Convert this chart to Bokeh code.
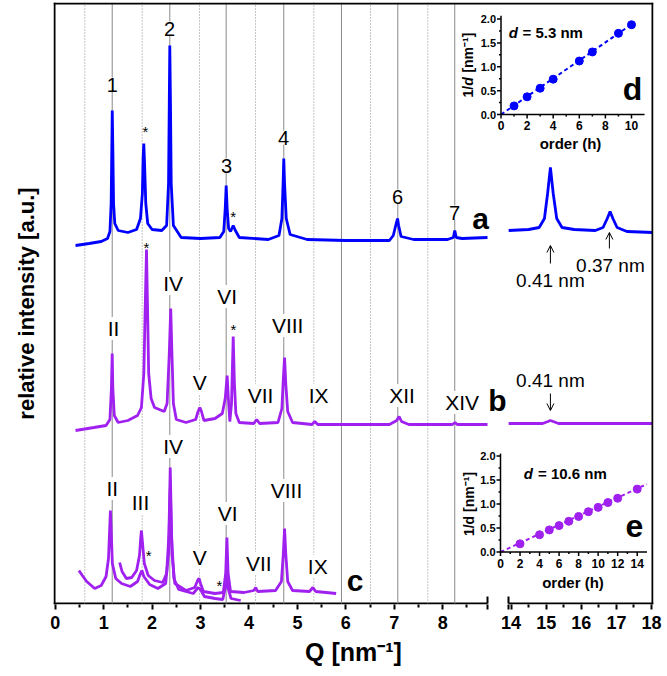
import math
from bokeh.plotting import figure
from bokeh.models import Range1d, FixedTicker, Label, Arrow, OpenHead, LinearAxis, Span
from bokeh.core.properties import value
from bokeh.embed import file_html
from bokeh.resources import INLINE

BLUE = "#0000ff"
PURPLE = "#a020f0"
GRID = "#8a8a8a"
FONT = "Liberation Sans"
LW = 2.8

# ---------------- data ----------------
# trace a (blue), main panel: Q [nm^-1], relative intensity [a.u.]
qa = [0.42, 0.70, 0.95, 1.08, 1.13, 1.155, 1.17, 1.178, 1.19, 1.205, 1.23, 1.30, 1.50, 1.68, 1.76,
      1.80, 1.815, 1.829, 1.845, 1.87, 1.91, 2.00, 2.20, 2.30, 2.34, 2.355, 2.366, 2.38, 2.395, 2.44,
      2.60, 3.00, 3.40, 3.48, 3.51, 3.53, 3.55, 3.58, 3.62, 3.675, 3.72, 3.80, 4.40, 4.62, 4.68,
      4.705, 4.719, 4.735, 4.77, 4.85, 5.20, 6.00, 6.90, 6.98, 7.04, 7.068, 7.09, 7.14, 7.40, 8.10,
      8.22, 8.249, 8.28, 8.40, 8.925]
ia = [358, 360, 362, 365, 372, 400, 460, 493, 455, 400, 380, 373, 371, 374, 385,
      410, 445, 460, 440, 400, 380, 374, 373, 378, 420, 500, 558, 500, 420, 378,
      366, 365, 366, 372, 395, 418, 395, 375, 372, 378, 373, 366, 364, 368, 385,
      420, 445, 420, 385, 369, 364, 363, 363, 368, 380, 385, 378, 367, 364, 364,
      366, 373, 366, 365, 366]

# trace b (purple)
qb = [0.42, 0.80, 1.05, 1.13, 1.16, 1.177, 1.19, 1.22, 1.30, 1.50, 1.70, 1.78, 1.83, 1.86, 1.885,
      1.905, 1.93, 1.98, 2.05, 2.25, 2.31, 2.355, 2.385, 2.41, 2.44, 2.50, 2.70, 2.90, 2.95, 2.985,
      3.02, 3.07, 3.30, 3.45, 3.51, 3.55, 3.575, 3.605, 3.64, 3.675, 3.70, 3.73, 3.80, 4.10, 4.16,
      4.22, 4.60, 4.68, 4.71, 4.735, 4.76, 4.80, 4.90, 5.30, 5.36, 5.42, 6.90, 7.05, 7.10, 7.15,
      7.30, 8.20, 8.255, 8.30, 8.925]
ib = [173, 176, 178, 184, 215, 250, 215, 188, 181, 183, 188, 196, 230, 300, 354,
      300, 230, 205, 196, 192, 200, 250, 295, 250, 200, 184, 181, 184, 192, 196,
      192, 183, 185, 190, 205, 228, 205, 182, 200, 267, 220, 190, 181, 180, 184,
      180, 181, 195, 225, 246, 220, 192, 181, 179, 182, 179, 179, 183, 187, 182,
      179, 179, 181, 179, 179]

# trace c (purple), two overlapping scans
qc1 = [0.49, 0.56, 0.65, 0.815, 0.95, 1.05, 1.10, 1.125, 1.14, 1.155, 1.18, 1.25, 1.37, 1.55, 1.70,
       1.76, 1.79, 1.83, 1.95, 2.12, 2.28, 2.34, 2.36, 2.375, 2.39, 2.41, 2.47, 2.70, 2.88, 2.95,
       2.97, 3.00, 3.06, 3.30, 3.47, 3.52, 3.545, 3.57, 3.62, 3.90, 4.10, 4.14, 4.18, 4.55, 4.67,
       4.71, 4.735, 4.76, 4.80, 4.90, 5.25, 5.32, 5.38, 5.80]
ic1 = [33, 28, 22, 15, 18, 27, 45, 75, 93, 75, 40, 25, 20, 17, 22,
       30, 33, 27, 19, 15, 20, 50, 100, 136, 100, 50, 20, 13, 16, 24,
       25, 20, 12, 10, 11, 30, 66, 30, 12, 11, 13, 16, 12, 13, 22,
       50, 75, 50, 22, 13, 12, 16, 12, 10]
qc2 = [1.33, 1.38, 1.47, 1.58, 1.68, 1.74, 1.765, 1.78, 1.80, 1.84, 1.92, 2.05, 2.22, 2.30, 2.35,
       2.375, 2.40, 2.45, 2.55, 2.85, 2.95, 3.00, 3.08, 3.30, 3.46, 3.52, 3.545, 3.57, 3.63, 3.83]
ic2 = [41, 32, 25, 26, 33, 48, 65, 73, 62, 40, 28, 23, 21, 30, 70,
       115, 70, 25, 14, 10, 16, 14, 7, 5, 4, 18, 45, 15, 5, 3]

# right (wide-angle) panel
tr_a = [13.93, 14.50, 14.80, 14.95, 15.04, 15.12, 15.20, 15.30, 15.45, 15.80, 16.40, 16.62, 16.74,
        16.82, 16.90, 17.02, 17.30, 18.04]
ir_a = [373, 374, 376, 385, 410, 436, 410, 385, 376, 374, 373, 376, 385, 392, 385, 376, 372, 371]
tr_b = [13.93, 14.90, 15.05, 15.12, 15.20, 15.35, 18.04]
ir_b = [180, 180, 182, 183, 182, 180, 180]

# reference lines (peak positions)
solid_q = [1.177, 2.366, 3.530, 4.719, 5.910, 7.073, 8.249]
dotted_q = [0.611, 1.796, 2.979, 4.135, 5.339, 6.509, 7.692]

# peak labels
lab_a_txt = ["1", "2", "3", "4", "6", "7"]
lab_a_q = [1.177, 2.36, 3.536, 4.713, 7.067, 8.243]
lab_a_h = [519, 575, 438, 466, 407, 391]
lab_b_txt = ["II", "IV", "V", "VI", "VII", "VIII", "IX", "XII", "XIV"]
lab_b_q = [1.204, 2.436, 2.985, 3.551, 4.238, 4.80, 5.44, 7.16, 8.40]
lab_b_h = [275, 320, 221, 307, 208, 278, 208, 208, 201]
lab_c_txt = ["II", "III", "IV", "V", "VI", "VII", "VIII", "IX"]
lab_c_q = [1.177, 1.761, 2.436, 2.985, 3.563, 4.203, 4.775, 5.421]
lab_c_h = [115, 101, 157, 46, 90, 40, 113, 37]
star_q = [1.864, 3.675, 1.885, 3.681, 1.932, 3.392]
star_h = [476, 391, 360, 278, 52, 22]

# wide-angle annotations
wa_txt = ["0.41 nm", "0.37 nm", "0.41 nm"]
wa_t = [15.12, 16.83, 15.12]
wa_h = [323, 338, 223]
arr_t = [15.12, 16.80, 15.12]
arr_h0 = [340, 355, 210]
arr_h1 = [358, 371, 193]

# inset d
d_order = [1, 2, 3, 4, 6, 7, 9, 10]
d_inv = [0.18, 0.37, 0.55, 0.74, 1.12, 1.31, 1.70, 1.88]
d_fit_h = [0, 10]
d_fit_v = [0, 1.887]
# inset e
e_order = [2, 4, 5, 6, 7, 8, 9, 10, 11, 12, 14]
e_inv = [0.17, 0.36, 0.46, 0.55, 0.64, 0.74, 0.84, 0.93, 1.03, 1.12, 1.31]
e_fit_h = [0, 15]
e_fit_v = [0, 1.415]

main_ticks = [0, 1, 2, 3, 4, 5, 6, 7, 8]
right_ticks = [14, 15, 16, 17, 18]

# ---------------- layout calibration (canvas pixels) ----------------
FX0, FX1 = 53.0, 653.0
FY_TOP, FY_BOT = 2.0, 604.0


def xcal(v0, p0, v1, p1):
    k = (v1 - v0) / (p1 - p0)
    return Range1d(start=v0 + (FX0 - p0) * k, end=v0 + (FX1 - p0) * k), k


def ycal(v0, p0, v1, p1):
    k = (v1 - v0) / (p1 - p0)
    return Range1d(start=v0 + (FY_BOT - p0) * k, end=v0 + (FY_TOP - p0) * k), k


xr_main, kq = xcal(0, 54.7, 8, 442.2)
yr_main, kh = ycal(0, 603.0, 600, 3.0)
xr_right, kt = xcal(14, 510.6, 18, 651.0)
xr_d, kdx = xcal(0, 500.5, 10, 631.0)
yr_d, kdy = ycal(0, 114.0, 2, 18.5)
xr_e, kex = xcal(0, 500.0, 14, 636.7)
yr_e, key = ycal(0, 551.5, 2, 455.5)


def q_at_px(px):
    return (px - 54.7) * kq


def h_at_py(py):
    return 603.0 - py


def t_at_px(px):
    return 14 + (px - 510.6) * kt


def px_of_t(t):
    return 510.6 + (t - 14) / kt


q_break = q_at_px(487.0)
t_break = t_at_px(508.0)

p = figure(width=663, height=672, x_range=xr_main, y_range=yr_main, title=None,
           output_backend="svg", toolbar_location=None,
           min_border_left=53, min_border_right=10, min_border_top=2, min_border_bottom=68)
p.extra_x_ranges = {"r": xr_right, "dx": xr_d, "ex": xr_e, "px": Range1d(FX0, FX1)}
p.extra_y_ranges = {"dy": yr_d, "ey": yr_e, "py": Range1d(FY_BOT, FY_TOP)}
p.outline_line_color = None
p.xgrid.visible = False
p.ygrid.visible = False

# ---- bottom axis (ticks + labels); its line is drawn with a break below ----
majors = [float(v) for v in main_ticks]
overrides = {float(v): str(v) for v in main_ticks}
for t in right_ticks:
    qv = round(q_at_px(px_of_t(t)), 6)
    majors.append(qv)
    overrides[qv] = str(t)
for qv in (round(q_break, 6), round(q_at_px(508.0), 6)):
    majors.append(qv)
    overrides[qv] = ""
minors = [v + 0.5 for v in main_ticks] + [round(q_at_px(px_of_t(t + 0.5)), 6) for t in right_ticks[:-1]]
ax = p.xaxis[0]
ax.ticker = FixedTicker(ticks=majors, minor_ticks=minors)
ax.major_label_overrides = overrides
ax.axis_line_color = None
ax.major_tick_in = 0
ax.major_tick_out = 5
ax.minor_tick_in = 0
ax.minor_tick_out = 3
ax.major_tick_line_width = 2
ax.minor_tick_line_width = 2
ax.major_tick_line_color = "black"
ax.minor_tick_line_color = "black"
ax.major_label_text_font = FONT
ax.major_label_text_font_style = "bold"
ax.major_label_text_font_size = "18px"
ax.major_label_text_color = "black"
ax.major_label_standoff = 6

# axis title as a second (tick-less) axis below
tax = LinearAxis(ticker=FixedTicker(ticks=[]), axis_line_color=None,
                 major_tick_out=0, major_tick_in=0, minor_tick_out=0, minor_tick_in=0,
                 major_label_standoff=0,
                 axis_label="Q [nm\u207b\u00b9]", axis_label_text_font=FONT,
                 axis_label_text_font_style="bold", axis_label_text_font_size="25px",
                 axis_label_text_color="black", axis_label_standoff=6)
p.add_layout(tax, "below")

ay = p.yaxis[0]
ay.ticker = FixedTicker(ticks=[])
ay.axis_line_color = None
ay.bounds = (h_at_py(604.0), h_at_py(26.0))
ay.major_tick_out = 0
ay.major_tick_in = 0
ay.minor_tick_out = 0
ay.minor_tick_in = 0
ay.major_label_standoff = 0
ay.axis_label = "relative intensity [a.u.]"
ay.axis_label_text_font = FONT
ay.axis_label_text_font_style = "bold"
ay.axis_label_text_font_size = "22px"
ay.axis_label_text_color = "black"
ay.axis_label_standoff = 15

# ---- frame lines ----
p.add_layout(Span(location=h_at_py(3.0), dimension="width", line_color="black", line_width=2))
p.add_layout(Span(location=q_at_px(652.0), dimension="height", line_color="black", line_width=2))
p.add_layout(Span(location=q_at_px(54.0), dimension="height", line_color="black", line_width=2))
p.segment(x0=[xr_main.start], y0=[0], x1=[q_break], y1=[0], line_color="black", line_width=2)
p.segment(x0=[t_break], y0=[0], x1=[xr_right.end], y1=[0], line_color="black", line_width=2,
          x_range_name="r")
p.segment(x0=[q_break], y0=[0], x1=[q_break], y1=[7], line_color="black", line_width=2)
p.segment(x0=[t_break], y0=[0], x1=[t_break], y1=[7], line_color="black", line_width=2, x_range_name="r")

# ---- reference lines ----
p.segment(x0=solid_q, y0=[0] * len(solid_q), x1=solid_q, y1=[601] * len(solid_q),
          line_color=GRID, line_width=1)
p.segment(x0=dotted_q, y0=[0] * len(dotted_q), x1=dotted_q, y1=[601] * len(dotted_q),
          line_color=GRID, line_width=1, line_dash="1 2")

# ---- traces ----
p.line(qa, ia, line_color=BLUE, line_width=LW)
p.line(qb, ib, line_color=PURPLE, line_width=LW)
p.line(qc2, ic2, line_color=PURPLE, line_width=LW)
p.line(qc1, ic1, line_color=PURPLE, line_width=LW)
p.line(tr_a, ir_a, line_color=BLUE, line_width=LW, x_range_name="r")
p.line(tr_b, ir_b, line_color=PURPLE, line_width=LW, x_range_name="r")


def lab(x, y, text, size, style="normal", xr="default", yr="default", bg=None,
        align="center", baseline="middle", angle=0.0):
    lb = Label(x=x, y=y, text=text, text_font=FONT, text_font_size=f"{size}px",
               text_font_style=style, text_align=align, text_baseline=baseline,
               text_color="black", angle=angle, x_range_name=xr, y_range_name=yr)
    if bg:
        lb.background_fill_color = bg
    p.add_layout(lb)


for t, q, h in zip(lab_a_txt, lab_a_q, lab_a_h):
    lab(q, h, t, 20, bg="white")
for t, q, h in zip(lab_b_txt, lab_b_q, lab_b_h):
    lab(q, h, t, 21, bg="white")
for t, q, h in zip(lab_c_txt, lab_c_q, lab_c_h):
    lab(q, h, t, 21, bg="white")
for q, h in zip(star_q, star_h):
    lab(q, h - 4, "*", 15)

lab(480, 218, "a", 30, "bold", xr="px", yr="py")
lab(497, 400, "b", 30, "bold", xr="px", yr="py")
lab(354.5, 580, "c", 30, "bold", xr="px", yr="py")

for t, tt, h in zip(wa_txt, wa_t, wa_h):
    lab(tt, h, t, 19, xr="r")
for tt, h0, h1 in zip(arr_t, arr_h0, arr_h1):
    p.add_layout(Arrow(end=OpenHead(size=7, line_width=1, line_color="black"),
                       x_start=tt, y_start=h0, x_end=tt, y_end=h1,
                       line_width=1, line_color="black", x_range_name="r"))


# ---------------- insets ----------------
def inset(xn, yn, kx, ky, xmax, ymax, xmaj, xmin_, color, order, inv, fh, fv):
    p.line(fh, fv, line_color=color, line_width=2, line_dash="4 3", x_range_name=xn, y_range_name=yn)
    p.scatter(order, inv, size=8, fill_color=color, line_color=color,
              x_range_name=xn, y_range_name=yn)
    p.segment(x0=[0, 0], y0=[0, 0], x1=[xmax, 0], y1=[0, ymax], line_color="black",
              line_width=1.5, x_range_name=xn, y_range_name=yn)
    p.segment(x0=xmaj, y0=[0] * len(xmaj), x1=xmaj, y1=[4 * ky] * len(xmaj),
              line_color="black", line_width=1.5, x_range_name=xn, y_range_name=yn)
    p.segment(x0=xmin_, y0=[0] * len(xmin_), x1=xmin_, y1=[2 * ky] * len(xmin_),
              line_color="black", line_width=1.5, x_range_name=xn, y_range_name=yn)
    ymaj = [0, 0.5, 1.0, 1.5, 2.0]
    ymin_ = [0.25, 0.75, 1.25, 1.75]
    p.segment(x0=[0] * 5, y0=ymaj, x1=[-4 * kx] * 5, y1=ymaj,
              line_color="black", line_width=1.5, x_range_name=xn, y_range_name=yn)
    p.segment(x0=[0] * 4, y0=ymin_, x1=[-2 * kx] * 4, y1=ymin_,
              line_color="black", line_width=1.5, x_range_name=xn, y_range_name=yn)
    p.text(x=xmaj, y=[11 * ky] * len(xmaj), text=[str(v) for v in xmaj],
           text_font=value(FONT), text_font_style="bold", text_font_size="12px",
           text_align="center", text_baseline="middle", text_color="black",
           x_range_name=xn, y_range_name=yn)
    p.text(x=[-5 * kx] * 5, y=ymaj, text=[f"{v:.1f}" for v in ymaj],
           text_font=value(FONT), text_font_style="bold", text_font_size="11px",
           text_align="right", text_baseline="middle", text_color="black",
           x_range_name=xn, y_range_name=yn)


inset("dx", "dy", kdx, kdy, 11, 2.07, [0, 2, 4, 6, 8, 10], [1, 3, 5, 7, 9], BLUE,
      d_order, d_inv, d_fit_h, d_fit_v)
inset("ex", "ey", kex, key, 15, 2.05, [0, 2, 4, 6, 8, 10, 12, 14], [1, 3, 5, 7, 9, 11, 13], PURPLE,
      e_order, e_inv, e_fit_h, e_fit_v)

# inset texts (canvas pixel coordinates)
lab(570, 143, "order (h)", 15, "bold", xr="px", yr="py")
lab(572.5, 581.5, "order (h)", 15, "bold", xr="px", yr="py")
lab(467.5, 97, "1/", 14, "bold", xr="px", yr="py", align="left", angle=math.pi / 2)
lab(467.5, 85.3, "d", 14, "bold italic", xr="px", yr="py", align="left", angle=math.pi / 2)
lab(467.5, 76.0, "\u00a0[nm\u207b\u00b9]", 14, "bold", xr="px", yr="py", align="left", angle=math.pi / 2)
lab(468, 503.5, "1/d [nm\u207b\u00b9]", 14, "bold", xr="px", yr="py", angle=math.pi / 2)
lab(508.3, 32, "d", 15, "bold italic", xr="px", yr="py", align="left")
lab(522.0, 32, "= 5.3 nm", 15, "bold", xr="px", yr="py", align="left")
lab(523.3, 473.3, "d", 15, "bold italic", xr="px", yr="py", align="left")
lab(537.5, 473.3, "= 10.6 nm", 15, "bold", xr="px", yr="py", align="left")
lab(632, 88, "d", 32, "bold", xr="px", yr="py")
lab(634, 525, "e", 32, "bold", xr="px", yr="py")

open("out.html", "w").write(file_html(p, INLINE))
